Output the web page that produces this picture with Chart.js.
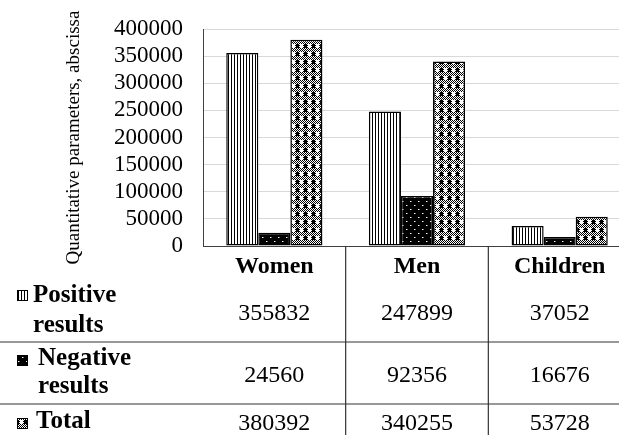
<!DOCTYPE html>
<html><head><meta charset="utf-8">
<script src="https://cdn.jsdelivr.net/npm/chart.js@4"></script>
<style>html,body{margin:0;padding:0;background:#fff;overflow:hidden;} #wrap{width:632px;height:435px;}</style>
</head><body><div id="wrap"><canvas id="c" width="632" height="435"></canvas></div>
<script>
const categories = ['Women', 'Men', 'Children'];
const seriesNames = ['Positive results', 'Negative results', 'Total'];
const rowLabelLines = [['Positive', 'results'], ['Negative', 'results'], ['Total']];
const positive = [355832, 247899, 37052];
const negative = [24560, 92356, 16676];
const total = [380392, 340255, 53728];
const yTicks = [0, 50000, 100000, 150000, 200000, 250000, 300000, 350000, 400000];
const yTitle = 'Quantitative parameters, abscissa';

const FAMILY = "'Liberation Serif', 'Times New Roman', serif";

function makePattern(w, h, draw) {
  const c = document.createElement('canvas');
  c.width = w; c.height = h;
  const g = c.getContext('2d');
  draw(g);
  return document.getElementById('c').getContext('2d').createPattern(c, 'repeat');
}
function dither(g, x0, y0, w, h) {
  for (let y = y0; y < y0 + h; y++) for (let x = x0; x < x0 + w; x++) {
    g.fillStyle = ((x + y) % 2 === 0) ? '#000' : '#fff';
    g.fillRect(x, y, 1, 1);
  }
}
const patPositive = makePattern(3, 4, g => {
  g.fillStyle = '#fff'; g.fillRect(0, 0, 3, 4);
  g.fillStyle = '#000'; g.fillRect(0, 0, 1, 4);
});
const patNegative = makePattern(8, 8, g => {
  g.fillStyle = '#000'; g.fillRect(0, 0, 8, 8);
  g.fillStyle = '#fff'; g.fillRect(2, 1, 1, 1); g.fillRect(6, 5, 1, 1);
  g.fillStyle = '#777'; g.fillRect(3, 1, 1, 1); g.fillRect(7, 5, 1, 1);
});
const patTotal = makePattern(8, 8, g => {
  dither(g, 0, 0, 8, 8);
  g.fillStyle = '#000'; g.fillRect(0, 4, 3, 4);
  g.fillStyle = '#fff'; g.fillRect(4, 4, 3, 4);
});
const patterns = [patPositive, patNegative, patTotal];

const tablePlugin = {
  id: 'dataTable',
  afterDraw(chart) {
    const ctx = chart.ctx;
    const xs = chart.scales.x;
    const area = chart.chartArea;
    const H = chart.height, W = chart.width;
    const n = categories.length;
    const seps = [342, 404];
    const labelBase = [[302, 332], [365, 393], [428]];
    const labelX = [33, 38, 36];
    const numBase = [320, 382, 430];
    const iconY = [290, 355, 418];
    ctx.save();
    ctx.strokeStyle = '#333';
    ctx.lineWidth = 1.2;
    seps.forEach(y => { ctx.beginPath(); ctx.moveTo(0, y); ctx.lineTo(W, y); ctx.stroke(); });
    for (let i = 1; i < n; i++) {
      const bx = (xs.getPixelForValue(i - 1) + xs.getPixelForValue(i)) / 2;
      ctx.beginPath(); ctx.moveTo(bx, area.bottom); ctx.lineTo(bx, H); ctx.stroke();
    }
    const rows = [positive, negative, total];
    rows.forEach((vals, r) => {
      ctx.fillStyle = patterns[r];
      ctx.fillRect(17, iconY[r], 11, 11);
      ctx.strokeStyle = '#000'; ctx.lineWidth = 1;
      ctx.strokeRect(17.5, iconY[r] + 0.5, 10, 10);
      ctx.fillStyle = '#000';
      ctx.font = 'bold 25px ' + FAMILY;
      ctx.textAlign = 'left'; ctx.textBaseline = 'alphabetic';
      rowLabelLines[r].forEach((t, k) => ctx.fillText(t, labelX[r], labelBase[r][k]));
      ctx.font = '24px ' + FAMILY;
      ctx.textAlign = 'center';
      vals.forEach((v, i) => ctx.fillText(String(v), xs.getPixelForValue(i), numBase[r]));
    });
    ctx.restore();
  }
};

new Chart(document.getElementById('c'), {
  type: 'bar',
  data: {
    labels: categories,
    datasets: [positive, negative, total].map((d, i) => ({
      label: seriesNames[i],
      data: d,
      backgroundColor: patterns[i],
      borderColor: '#000',
      borderWidth: 1.5,
      borderSkipped: false,
      categoryPercentage: 0.674,
      barPercentage: 1
    }))
  },
  options: {
    responsive: false,
    animation: false,
    layout: { padding: { left: 0, right: 1, top: 29, bottom: 0 } },
    plugins: { legend: { display: false }, tooltip: { enabled: false } },
    scales: {
      x: {
        grid: { display: false, drawTicks: false },
        border: { display: true, color: '#404040', width: 1 },
        ticks: { font: { family: FAMILY, size: 24, weight: 'bold' }, color: '#000', padding: 6, maxRotation: 0, autoSkip: false },
        afterFit(s) { s.height = 189; s.paddingLeft = 0; s.paddingRight = 0; }
      },
      y: {
        min: 0, max: 400000,
        afterBuildTicks(s) { s.ticks = yTicks.map(v => ({ value: v })); },
        ticks: { font: { family: FAMILY, size: 23 }, color: '#000', padding: 20, autoSkip: false, callback: v => String(v) },
        grid: { color: '#d9d9d9', drawTicks: false, lineWidth: 1 },
        border: { display: true, color: '#404040', width: 1 },
        title: { display: true, text: yTitle, font: { family: FAMILY, size: 19 }, color: '#000', padding: { top: 63, bottom: 0 } },
        afterFit(s) { s.width = 203; s.paddingTop = 0; s.paddingBottom = 0; }
      }
    }
  },
  plugins: [tablePlugin]
});
</script>
</body></html>
